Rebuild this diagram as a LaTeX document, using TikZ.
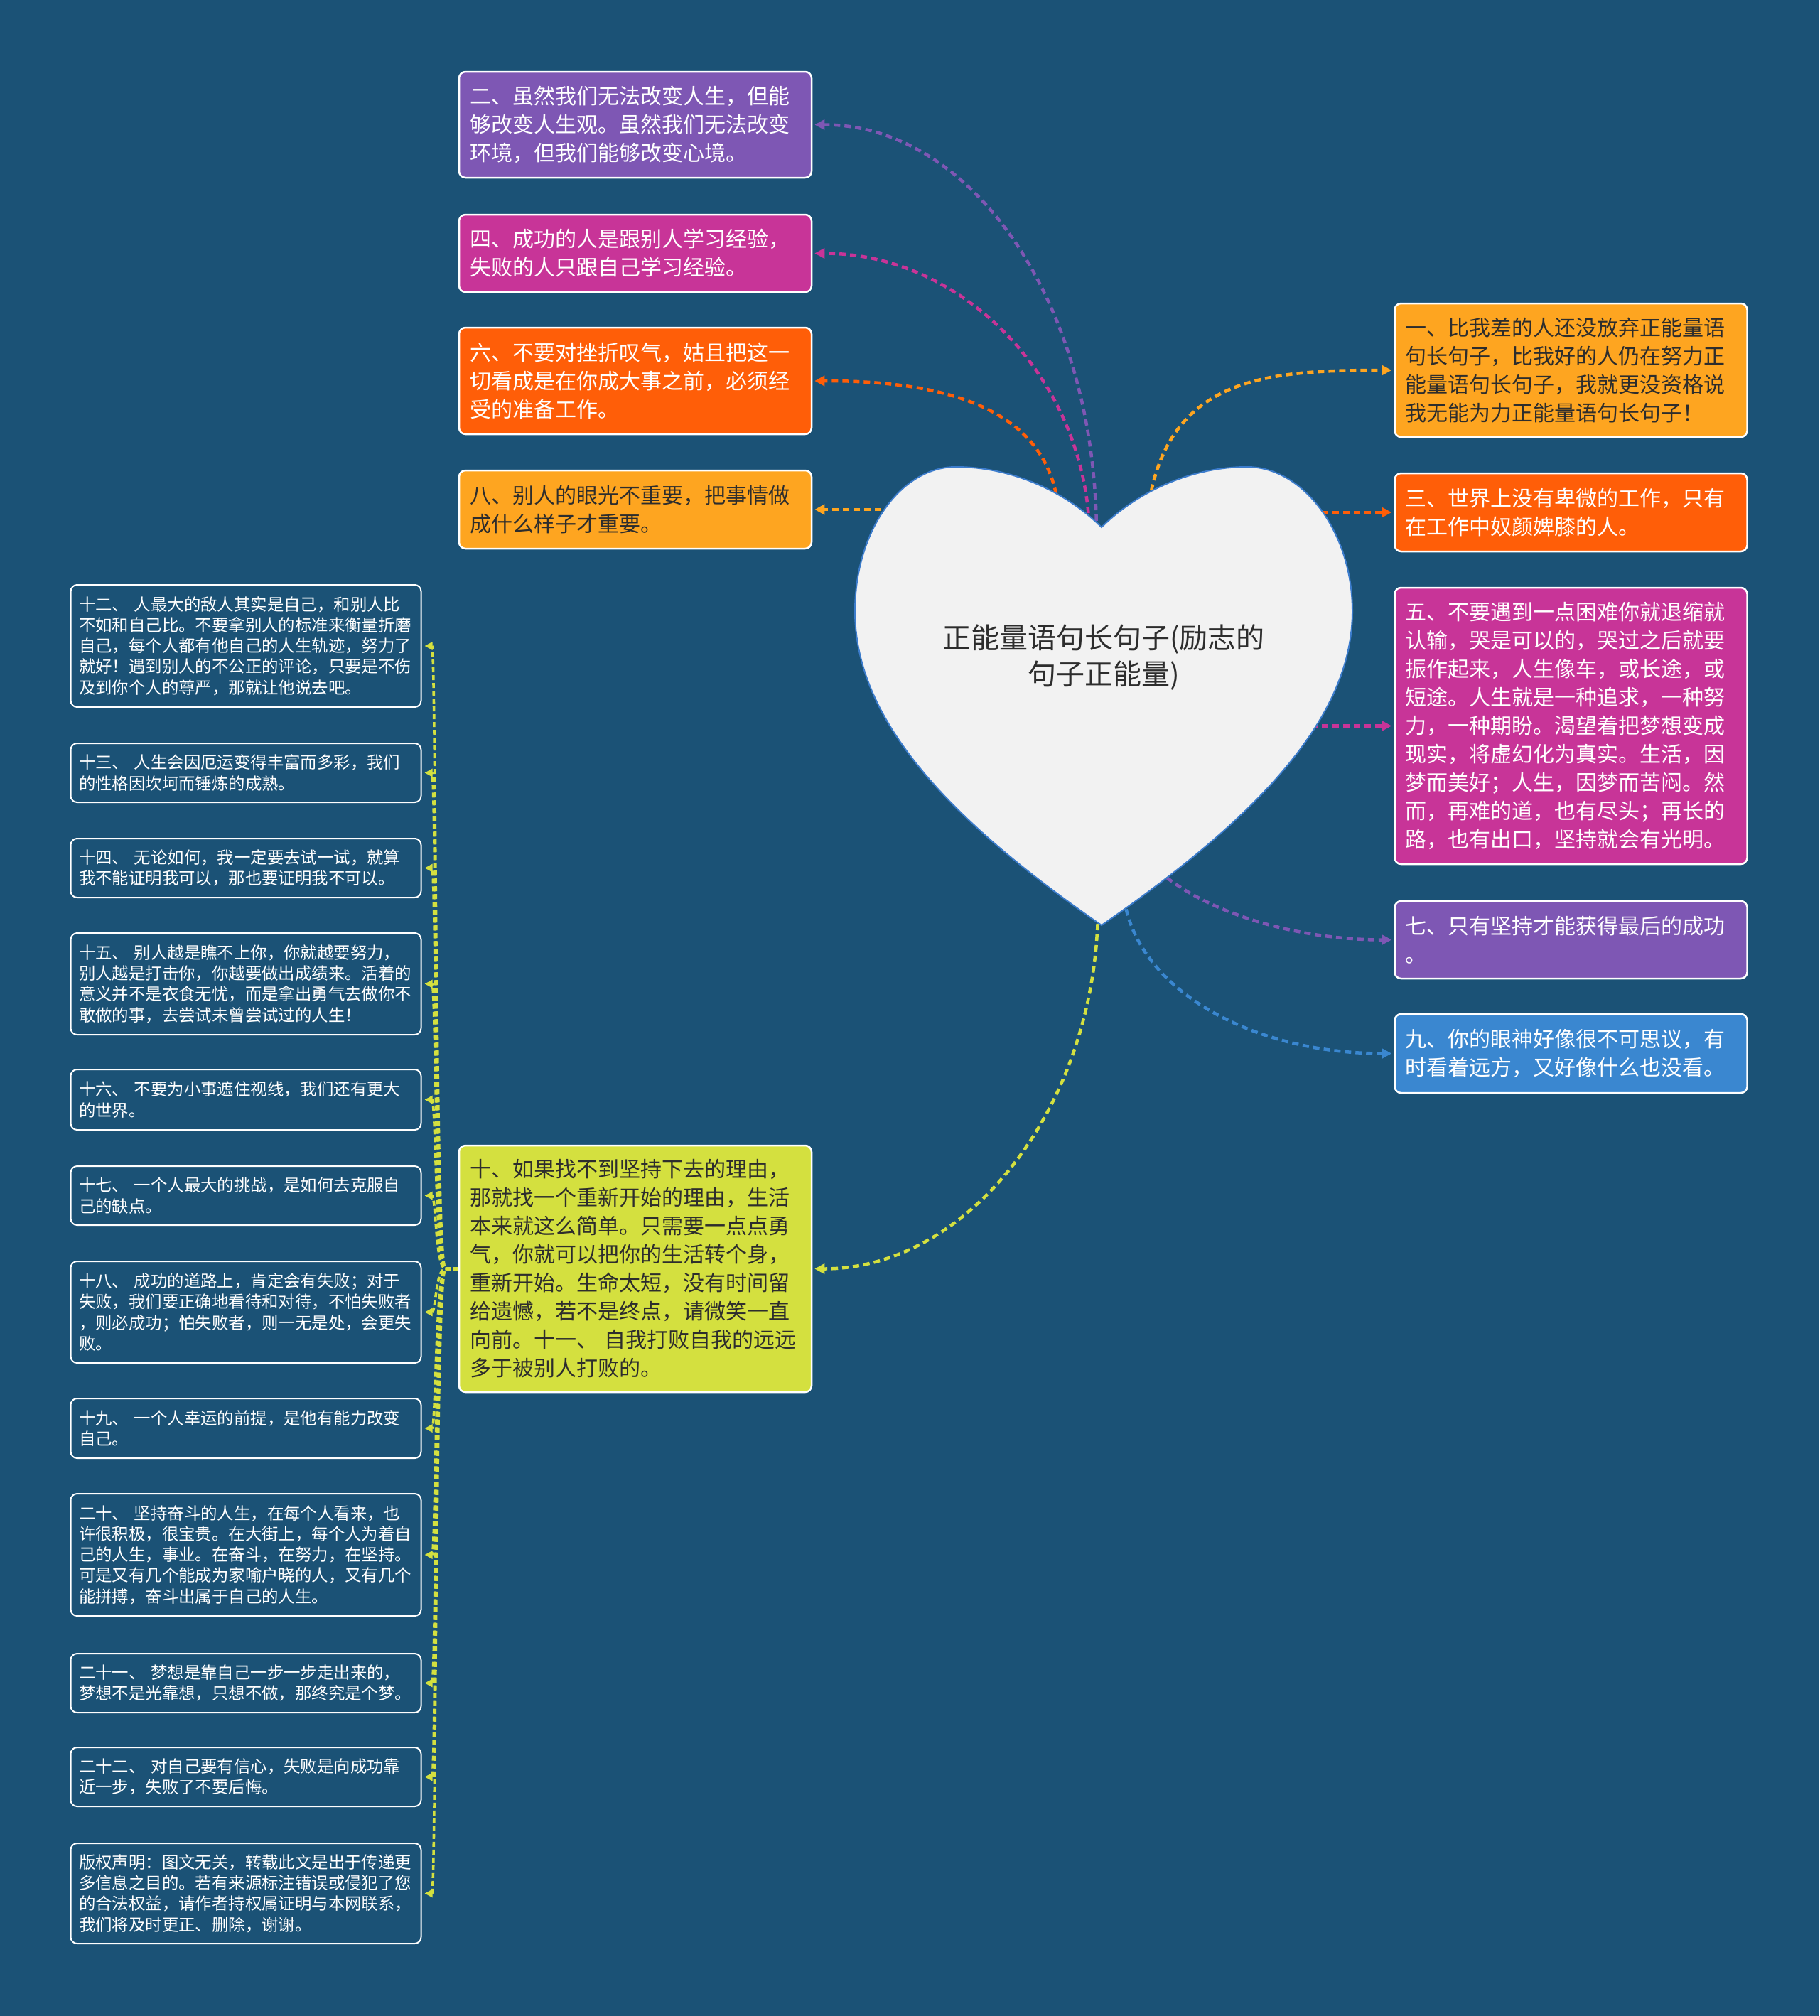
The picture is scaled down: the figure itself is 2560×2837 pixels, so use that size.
\documentclass[tikz,border=0pt]{standalone}
\usepackage{fontspec}
\newfontfamily\cjk{Noto Sans CJK SC}
\usetikzlibrary{arrows.meta}
\definecolor{bgc}{RGB}{27,82,118}
\definecolor{cpurple}{RGB}{126,87,180}
\definecolor{cmagenta}{RGB}{200,52,152}
\definecolor{corange}{RGB}{255,94,8}
\definecolor{cyellow}{RGB}{254,165,32}
\definecolor{cblue}{RGB}{58,135,208}
\definecolor{clime}{RGB}{212,224,63}
\definecolor{heartfill}{RGB}{242,242,242}
\definecolor{heartline}{RGB}{60,124,204}
\definecolor{darktext}{RGB}{45,45,45}
\begin{document}
\begin{tikzpicture}[x=1pt,y=-1pt,
  bigbox/.style={draw=white, line width=2.5pt, rounded corners=9pt, text width=466pt, inner xsep=15pt, inner ysep=0pt, align=left, font=\cjk\fontsize{30}{40}\selectfont},
  smallbox/.style={draw=white, line width=2pt, rounded corners=9pt, fill=bgc, text=white, text width=470pt, inner xsep=11.5pt, inner ysep=0pt, align=left, font=\cjk\fontsize{23.4}{29.3}\selectfont},
  conn/.style={line width=4.5pt, dash pattern=on 9pt off 6pt, -{Triangle[length=14pt,width=14pt]}, shorten >=3pt},
  fan/.style={draw=clime, line width=3.6pt, dash pattern=on 7pt off 4pt, -{Triangle[length=11pt,width=11pt]}, shorten >=4pt},
  titletext/.style={font=\cjk\fontsize{40}{51}\selectfont, text=darktext, align=center}
]
\fill[bgc] (0,0) rectangle (2560,2837);
\useasboundingbox (0,0) rectangle (2560,2837);

% ---------- boxes (upper left) ----------
\node[bigbox, fill=cpurple, text=white, minimum height=149pt] (n2) at (894,175.5)
 {二、虽然我们无法改变人生，但能\\够改变人生观。虽然我们无法改变\\环境，但我们能够改变心境。};
\node[bigbox, fill=cmagenta, text=white, minimum height=109pt] (n4) at (894,356.5)
 {四、成功的人是跟别人学习经验，\\失败的人只跟自己学习经验。};
\node[bigbox, fill=corange, text=white, minimum height=150pt] (n6) at (894,536)
 {六、不要对挫折叹气，姑且把这一\\切看成是在你成大事之前，必须经\\受的准备工作。};
\node[bigbox, fill=cyellow, text=darktext, minimum height=110pt] (n8) at (894,717)
 {八、别人的眼光不重要，把事情做\\成什么样子才重要。};
\node[bigbox, fill=clime, text=darktext, minimum height=347pt] (n10) at (894,1785.5)
 {十、如果找不到坚持下去的理由，\\那就找一个重新开始的理由，生活\\本来就这么简单。只需要一点点勇\\气，你就可以把你的生活转个身，\\重新开始。生命太短，没有时间留\\给遗憾，若不是终点，请微笑一直\\向前。十一、 自我打败自我的远远\\多于被别人打败的。};

% ---------- boxes (right) ----------
\node[bigbox, fill=cyellow, text=darktext, minimum height=188pt] (n1) at (2210.5,521)
 {一、比我差的人还没放弃正能量语\\句长句子，比我好的人仍在努力正\\能量语句长句子，我就更没资格说\\我无能为力正能量语句长句子！};
\node[bigbox, fill=corange, text=white, minimum height=110pt] (n3) at (2210.5,721)
 {三、世界上没有卑微的工作，只有\\在工作中奴颜婢膝的人。};
\node[bigbox, fill=cmagenta, text=white, minimum height=389pt] (n5) at (2210.5,1021.5)
 {五、不要遇到一点困难你就退缩就\\认输，哭是可以的，哭过之后就要\\振作起来，人生像车，或长途，或\\短途。人生就是一种追求，一种努\\力，一种期盼。渴望着把梦想变成\\现实，将虚幻化为真实。生活，因\\梦而美好；人生，因梦而苦闷。然\\而，再难的道，也有尽头；再长的\\路，也有出口，坚持就会有光明。};
\node[bigbox, fill=cpurple, text=white, minimum height=109pt] (n7) at (2210.5,1322.5)
 {七、只有坚持才能获得最后的成功\\。};
\node[bigbox, fill=cblue, text=white, minimum height=111pt] (n9) at (2210.5,1482.5)
 {九、你的眼神好像很不可思议，有\\时看着远方，又好像什么也没看。};

% ---------- small boxes (left column) ----------
\node[smallbox, minimum height=172pt] (s12) at (346,909)
 {十二、 人最大的敌人其实是自己，和别人比\\不如和自己比。不要拿别人的标准来衡量折磨\\自己，每个人都有他自己的人生轨迹，努力了\\就好！遇到别人的不公正的评论，只要是不伤\\及到你个人的尊严，那就让他说去吧。};
\node[smallbox, minimum height=83pt] (s13) at (346,1087.5)
 {十三、 人生会因厄运变得丰富而多彩，我们\\的性格因坎坷而锤炼的成熟。};
\node[smallbox, minimum height=83pt] (s14) at (346,1221.5)
 {十四、 无论如何，我一定要去试一试，就算\\我不能证明我可以，那也要证明我不可以。};
\node[smallbox, minimum height=143pt] (s15) at (346,1384.5)
 {十五、 别人越是瞧不上你，你就越要努力，\\别人越是打击你，你越要做出成绩来。活着的\\意义并不是衣食无忧，而是拿出勇气去做你不\\敢做的事，去尝试未曾尝试过的人生！};
\node[smallbox, minimum height=85pt] (s16) at (346,1547.5)
 {十六、 不要为小事遮住视线，我们还有更大\\的世界。};
\node[smallbox, minimum height=83pt] (s17) at (346,1682.5)
 {十七、 一个人最大的挑战，是如何去克服自\\己的缺点。};
\node[smallbox, minimum height=143pt] (s18) at (346,1846.5)
 {十八、 成功的道路上，肯定会有失败；对于\\失败，我们要正确地看待和对待，不怕失败者\\，则必成功；怕失败者，则一无是处，会更失\\败。};
\node[smallbox, minimum height=84pt] (s19) at (346,2010)
 {十九、 一个人幸运的前提，是他有能力改变\\自己。};
\node[smallbox, minimum height=172pt] (s20) at (346,2188)
 {二十、 坚持奋斗的人生，在每个人看来，也\\许很积极，很宝贵。在大街上，每个人为着自\\己的人生，事业。在奋斗，在努力，在坚持。\\可是又有几个能成为家喻户晓的人，又有几个\\能拼搏，奋斗出属于自己的人生。};
\node[smallbox, minimum height=83pt] (s21) at (346,2368.5)
 {二十一、 梦想是靠自己一步一步走出来的，\\梦想不是光靠想，只想不做，那终究是个梦。};
\node[smallbox, minimum height=83pt] (s22) at (346,2500.5)
 {二十二、 对自己要有信心，失败是向成功靠\\近一步，失败了不要后悔。};
\node[smallbox, minimum height=141pt] (scp) at (346,2664.5)
 {版权声明：图文无关，转载此文是出于传递更\\多信息之目的。若有来源标注错误或侵犯了您\\的合法权益，请作者持权属证明与本网联系，\\我们将及时更正、删除，谢谢。};

% ---------- connectors from the heart ----------
\coordinate (c2) at (1543,748);
\coordinate (c4) at (1533,752);
\coordinate (c6) at (1490,725);
\coordinate (c8) at (1300,717);
\coordinate (c1) at (1615,720);
\coordinate (c3) at (1830,721);
\coordinate (c5) at (1800,1021.5);
\coordinate (c7) at (1620,1215);
\coordinate (c9) at (1580,1250);
\coordinate (c10) at (1545,1285);

\draw[conn, cpurple] (c2) .. controls (1540,420) and (1365,175.5) .. (n2.east);
\draw[conn, cmagenta] (c4) .. controls (1530,540) and (1360,356.5) .. (n4.east);
\draw[conn, corange] (c6) .. controls (1480,560) and (1300,536) .. (n6.east);
\draw[conn, cyellow] (c8) -- (n8.east);
\draw[conn, cyellow] (c1) .. controls (1640,530) and (1780,521) .. (n1.west);
\draw[conn, corange] (c3) -- (n3.west);
\draw[conn, cmagenta] (c5) -- (n5.west);
\draw[conn, cpurple] (c7) .. controls (1670,1270) and (1800,1322.5) .. (n7.west);
\draw[conn, cblue] (c9) .. controls (1590,1390) and (1760,1482.5) .. (n9.west);
\draw[conn, clime] (c10) .. controls (1540,1560) and (1362,1785.5) .. (n10.east);

% ---------- fan from box 10 ----------
\foreach \c in {s12,s13,s14,s15,s16,s17,s18,s19,s20,s21,s22,scp}
  \draw[fan] (n10.west) -- ++(-18,0) .. controls +(-14,0) and +(20,0) .. (\c.east);

% ---------- heart ----------
\filldraw[fill=heartfill, draw=heartline, line width=2pt]
  (1550,742) .. controls (1505,697) and (1430,657) .. (1345,657)
  .. controls (1267,657) and (1203,748) .. (1203,860)
  .. controls (1203,1010) and (1330,1150) .. (1550,1302)
  .. controls (1770,1150) and (1903,1010) .. (1903,860)
  .. controls (1903,748) and (1833,657) .. (1755,657)
  .. controls (1670,657) and (1595,697) .. (1550,742) -- cycle;
\node[titletext] (title) at (1553,925) {正能量语句长句子(励志的\\句子正能量)};
\end{tikzpicture}
\end{document}
